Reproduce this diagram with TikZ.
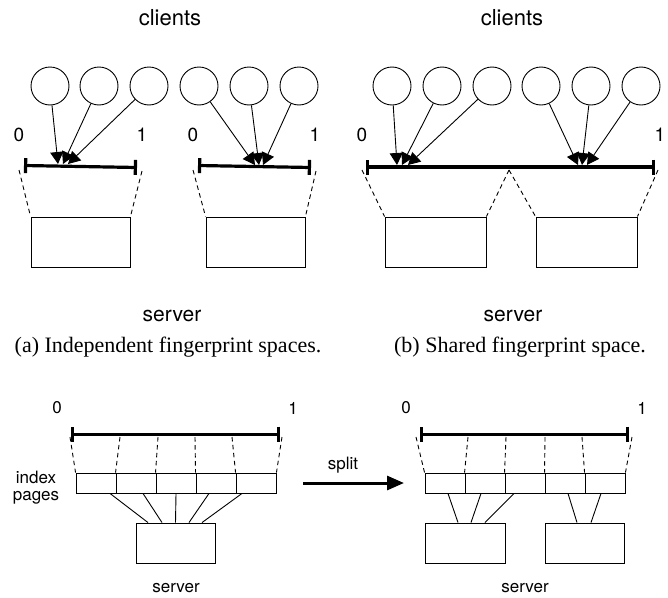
\documentclass[tikz,border=0pt]{standalone}
\usepackage{fontspec}
\setmainfont{Liberation Serif}
\setsansfont{TeX Gyre Heros}
\usetikzlibrary{arrows.meta,calc}
\tikzset{
  lbl/.style={font=\sffamily\fontsize{#1}{#1}\selectfont, inner sep=0pt},
  captxt/.style={font=\rmfamily\fontsize{22}{22}\selectfont, inner sep=0pt},
  client/.style={circle, draw, line width=0.9pt, minimum size=38pt, inner sep=0pt},
  srvbox/.style={draw, line width=0.9pt, inner sep=0pt},
  page/.style={draw, line width=0.9pt, minimum width=40pt, minimum height=20pt, inner sep=0pt},
  arr/.style={line width=0.9pt, -{Triangle[length=12pt,width=13pt]}},
  fpline/.style={line width=3.2pt, {Bar[width=15pt]}-{Bar[width=15pt]}},
  dsh/.style={line width=0.9pt, dash pattern=on 4.5pt off 3.5pt},
  conn/.style={line width=0.9pt},
}
\begin{document}
\begin{tikzpicture}[x=1pt,y=-1pt]
\useasboundingbox (0,0) rectangle (668,597);
% ---------------- (a)
\node[lbl=22] (cla) at (170,18) {clients};
\node[client] (a1) at (50,86) {};
\node[client] (a2) at (99,86) {};
\node[client] (a3) at (149,86) {};
\node[client] (a4) at (199,86) {};
\node[client] (a5) at (249,86) {};
\node[client] (a6) at (299,86) {};
\node[lbl=19] (a0l) at (19,135) {0};
\node[lbl=19] (a1l) at (142,135) {1};
\node[lbl=19] (a0r) at (193,135) {0};
\node[lbl=19] (a1r) at (315,135) {1};
\coordinate (aL1) at (24,165.5);
\coordinate (aR1) at (137,167.5);
\coordinate (aL2) at (198,165.5);
\coordinate (aR2) at (311,167.5);
\draw[fpline] (aL1) -- (aR1);
\draw[fpline] (aL2) -- (aR2);
\coordinate (ta1) at (58,164);
\coordinate (ta2) at (63,164);
\coordinate (ta3) at (68,164);
\coordinate (ta4) at (255,165);
\coordinate (ta5) at (259,165);
\coordinate (ta6) at (263,165);
\draw[arr] (a1) -- (ta1);
\draw[arr] (a2) -- (ta2);
\draw[arr] (a3) -- (ta3);
\draw[arr] (a4) -- (ta4);
\draw[arr] (a5) -- (ta5);
\draw[arr] (a6) -- (ta6);
\node[srvbox, minimum width=99pt, minimum height=50pt] (sa1) at (80.5,242) {};
\node[srvbox, minimum width=99pt, minimum height=50pt] (sa2) at (255.5,242) {};
\coordinate (da1) at (19,170);
\coordinate (da2) at (142,171);
\coordinate (da3) at (193,170);
\coordinate (da4) at (316,171);
\draw[dsh] (da1) -- (sa1.north west);
\draw[dsh] (da2) -- (sa1.north east);
\draw[dsh] (da3) -- (sa2.north west);
\draw[dsh] (da4) -- (sa2.north east);
\node[lbl=21] (sva) at (172,316) {server};
\node[captxt] (capa) at (168,347) {(a) Independent fingerprint spaces.};
% ---------------- (b)
\node[lbl=22] (clb) at (512,18) {clients};
\node[client] (b1) at (392,86) {};
\node[client] (b2) at (442,86) {};
\node[client] (b3) at (492,86) {};
\node[client] (b4) at (541,86) {};
\node[client] (b5) at (591,86) {};
\node[client] (b6) at (641,86) {};
\node[lbl=19] (b0l) at (362,135) {0};
\node[lbl=19] (b1l) at (660,135) {1};
\coordinate (bL) at (366,167);
\coordinate (bR) at (655,167);
\draw[fpline] (bL) -- (bR);
\coordinate (tb1) at (397,165);
\coordinate (tb2) at (402,165);
\coordinate (tb3) at (408,165);
\coordinate (tb4) at (578,165);
\coordinate (tb5) at (582,165);
\coordinate (tb6) at (587,165);
\draw[arr] (b1) -- (tb1);
\draw[arr] (b2) -- (tb2);
\draw[arr] (b3) -- (tb3);
\draw[arr] (b4) -- (tb4);
\draw[arr] (b5) -- (tb5);
\draw[arr] (b6) -- (tb6);
\node[srvbox, minimum width=101pt, minimum height=50pt] (sb1) at (435.5,242) {};
\node[srvbox, minimum width=101pt, minimum height=50pt] (sb2) at (586.5,242) {};
\coordinate (db1) at (362,170);
\coordinate (db2) at (509,170);
\coordinate (db3) at (658,170);
\draw[dsh] (db1) -- (sb1.north west);
\draw[dsh] (db2) -- (sb1.north east);
\draw[dsh] (db2) -- (sb2.north west);
\draw[dsh] (db3) -- (sb2.north east);
\node[lbl=21] (svb) at (513,316) {server};
\node[captxt] (capb) at (520,347) {(b) Shared fingerprint space.};
% ---------------- (c)
\node[lbl=17] (c0) at (57,408) {0};
\node[lbl=17] (c1) at (293,408) {1};
\coordinate (cL) at (71,434);
\coordinate (cR) at (280,434);
\draw[fpline, line width=3pt] (cL) -- (cR);
\node[lbl=17] (idx) at (36,477) {index};
\node[lbl=17] (pgs) at (36,498) {pages};
\node[page] (p1) at (96,483) {};
\node[page] (p2) at (136,483) {};
\node[page] (p3) at (176,483) {};
\node[page] (p4) at (216,483) {};
\node[page] (p5) at (256,483) {};
\coordinate (dc1) at (70,437);
\coordinate (dc2) at (120,437);
\coordinate (dc3) at (158,437);
\coordinate (dc4) at (195,437);
\coordinate (dc5) at (232,437);
\coordinate (dc6) at (282,437);
\draw[dsh] (dc1) -- (p1.north west);
\draw[dsh] (dc2) -- (p2.north west);
\draw[dsh] (dc3) -- (p3.north west);
\draw[dsh] (dc4) -- (p4.north west);
\draw[dsh] (dc5) -- (p5.north west);
\draw[dsh] (dc6) -- (p5.north east);
\node[srvbox, minimum width=79pt, minimum height=40pt] (sc) at (175.5,543) {};
\draw[conn] ([xshift=14pt]p1.south) -- ([xshift=-27.5pt]sc.north);
\draw[conn] ([xshift=7pt]p2.south) -- ([xshift=-13.5pt]sc.north);
\draw[conn] (p3.south) -- (sc.north);
\draw[conn] ([xshift=-7pt]p4.south) -- ([xshift=13.5pt]sc.north);
\draw[conn] ([xshift=-14pt]p5.south) -- ([xshift=26.5pt]sc.north);
\node[lbl=17] (svc) at (176,588) {server};
% split arrow
\coordinate (spA) at (303,483);
\coordinate (spB) at (404,483);
\draw[line width=3pt, -{Triangle[length=17pt,width=14pt]}] (spA) -- (spB);
\node[lbl=17] (spl) at (343,465) {split};
% ---------------- (d)
\node[lbl=17] (d0) at (406,408) {0};
\node[lbl=17] (d1) at (642,408) {1};
\coordinate (dL) at (420,434);
\coordinate (dR) at (629,434);
\draw[fpline, line width=3pt] (dL) -- (dR);
\node[page] (q1) at (445,483) {};
\node[page] (q2) at (485,483) {};
\node[page] (q3) at (525,483) {};
\node[page] (q4) at (565,483) {};
\node[page] (q5) at (605,483) {};
\coordinate (dd1) at (416,437);
\coordinate (dd2) at (468,437);
\coordinate (dd3) at (506,437);
\coordinate (dd4) at (545,437);
\coordinate (dd5) at (582,437);
\coordinate (dd6) at (632,437);
\draw[dsh] (dd1) -- (q1.north west);
\draw[dsh] (dd2) -- (q2.north west);
\draw[dsh] (dd3) -- (q3.north west);
\draw[dsh] (dd4) -- (q4.north west);
\draw[dsh] (dd5) -- (q5.north west);
\draw[dsh] (dd6) -- (q5.north east);
\node[srvbox, minimum width=80pt, minimum height=40pt] (sd1) at (465,543) {};
\node[srvbox, minimum width=79pt, minimum height=40pt] (sd2) at (584.5,543) {};
\draw[conn] ([xshift=3pt]q1.south) -- ([xshift=-7pt]sd1.north);
\draw[conn] ([xshift=-4pt]q2.south) -- ([xshift=6pt]sd1.north);
\draw[conn] ([xshift=-11pt]q3.south) -- ([xshift=20pt]sd1.north);
\draw[conn] ([xshift=3pt]q4.south) -- ([xshift=-7.5pt]sd2.north);
\draw[conn] ([xshift=-4pt]q5.south) -- ([xshift=6.5pt]sd2.north);
\node[lbl=17] (svd) at (525,588) {server};
\end{tikzpicture}
\end{document}
